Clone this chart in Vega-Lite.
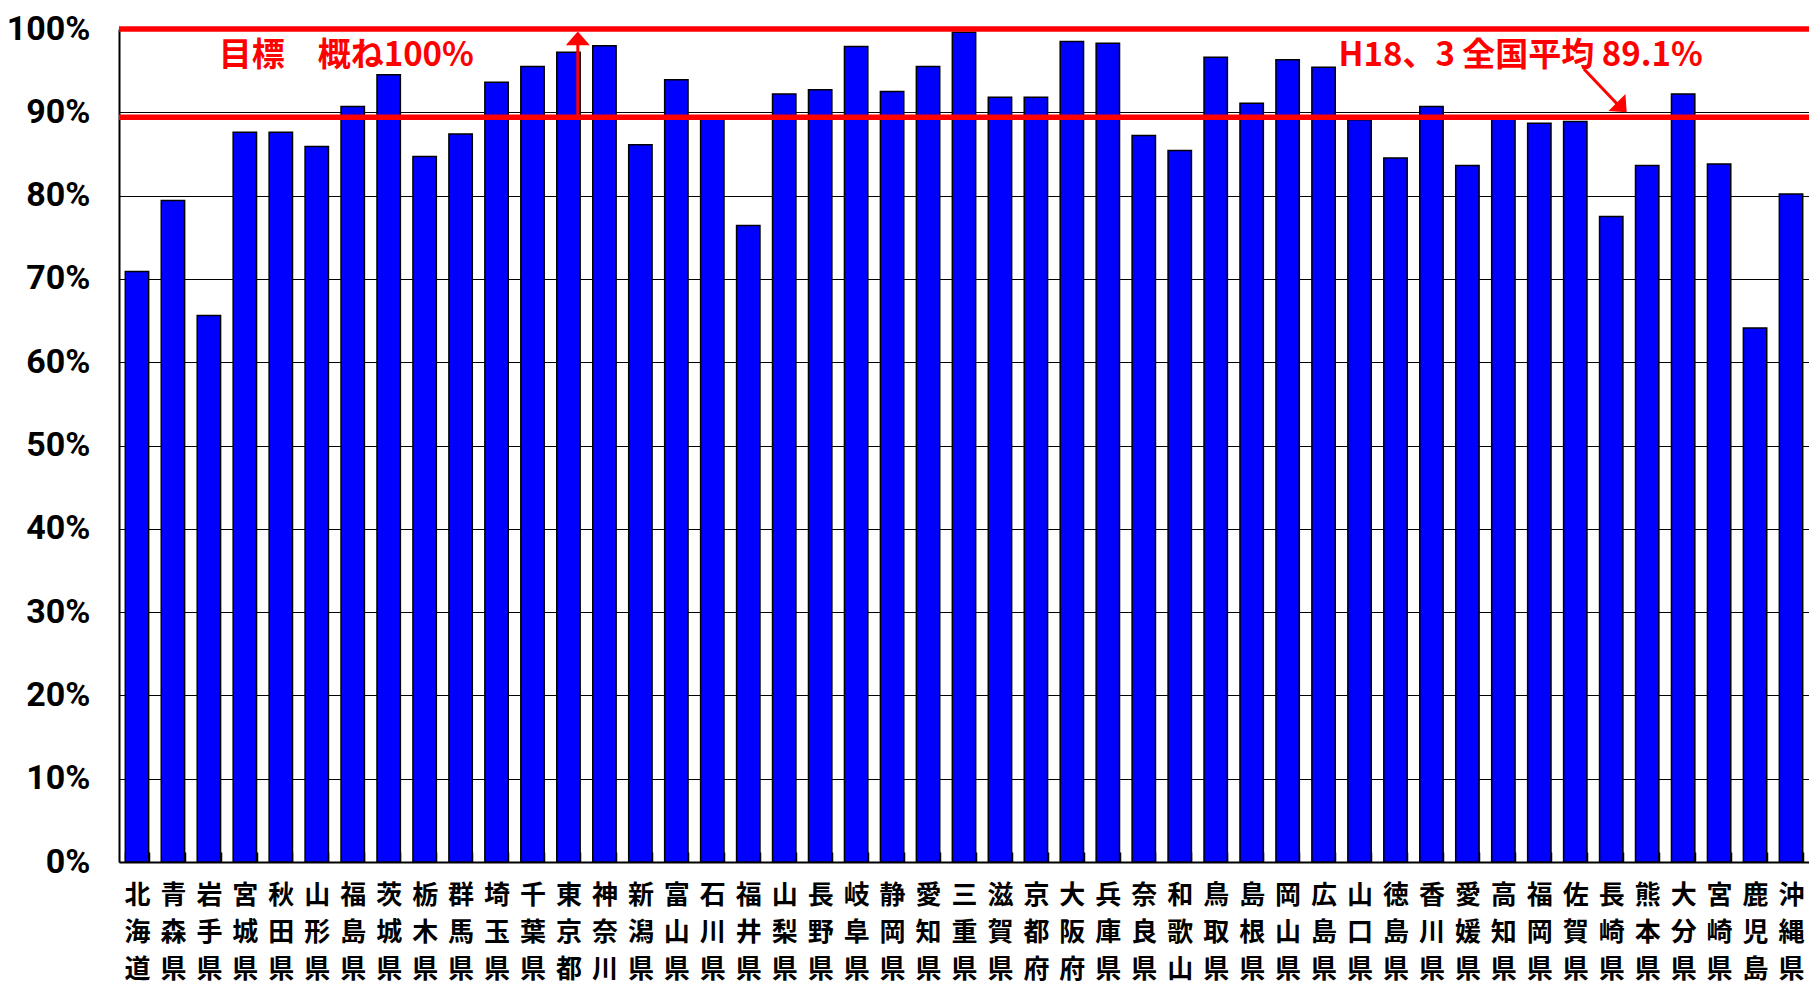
{
  "$schema": "https://vega.github.io/schema/vega-lite/v6.json",
  "width": 1690,
  "height": 833,
  "autosize": {"type": "none"},
  "padding": {"left": 119, "top": 29, "right": 0, "bottom": 122},
  "background": "white",
  "config": {"view": {"stroke": null}},
  "datasets": {
    "rates": [
      {"pref": "北海道", "rate": 70.9}, {"pref": "青森県", "rate": 79.4}, {"pref": "岩手県", "rate": 65.6},
      {"pref": "宮城県", "rate": 87.6}, {"pref": "秋田県", "rate": 87.6}, {"pref": "山形県", "rate": 85.9},
      {"pref": "福島県", "rate": 90.7}, {"pref": "茨城県", "rate": 94.5}, {"pref": "栃木県", "rate": 84.7},
      {"pref": "群馬県", "rate": 87.4}, {"pref": "埼玉県", "rate": 93.6}, {"pref": "千葉県", "rate": 95.5},
      {"pref": "東京都", "rate": 97.2}, {"pref": "神奈川", "rate": 98.0}, {"pref": "新潟県", "rate": 86.1},
      {"pref": "富山県", "rate": 93.9}, {"pref": "石川県", "rate": 89.3}, {"pref": "福井県", "rate": 76.4},
      {"pref": "山梨県", "rate": 92.2}, {"pref": "長野県", "rate": 92.7}, {"pref": "岐阜県", "rate": 97.9},
      {"pref": "静岡県", "rate": 92.5}, {"pref": "愛知県", "rate": 95.5}, {"pref": "三重県", "rate": 99.6},
      {"pref": "滋賀県", "rate": 91.8}, {"pref": "京都府", "rate": 91.8}, {"pref": "大阪府", "rate": 98.5},
      {"pref": "兵庫県", "rate": 98.3}, {"pref": "奈良県", "rate": 87.2}, {"pref": "和歌山", "rate": 85.4},
      {"pref": "鳥取県", "rate": 96.6}, {"pref": "島根県", "rate": 91.1}, {"pref": "岡山県", "rate": 96.3},
      {"pref": "広島県", "rate": 95.4}, {"pref": "山口県", "rate": 89.1}, {"pref": "徳島県", "rate": 84.5},
      {"pref": "香川県", "rate": 90.7}, {"pref": "愛媛県", "rate": 83.6}, {"pref": "高知県", "rate": 89.6},
      {"pref": "福岡県", "rate": 88.7}, {"pref": "佐賀県", "rate": 88.9}, {"pref": "長崎県", "rate": 77.5},
      {"pref": "熊本県", "rate": 83.6}, {"pref": "大分県", "rate": 92.2}, {"pref": "宮崎県", "rate": 83.8},
      {"pref": "鹿児島", "rate": 64.1}, {"pref": "沖縄県", "rate": 80.2}
    ],
    "reflines": [{"v": 100}, {"v": 89.4}],
    "labels": [
      {"pos": 6.32, "y": 96.8, "text": "目標　概ね100%"},
      {"pos": 38.98, "y": 96.8, "text": "H18、3 全国平均 89.1%"}
    ],
    "vshaft": [{"pos": 12.76, "y1": 89.4, "y2": 98.8}],
    "dshaft": [{"p1": 40.74, "p2": 41.75, "y1": 95.2, "y2": 90.6}],
    "heads": [
      {"pos": 12.76, "y": 99.7, "ang": 0},
      {"pos": 41.93, "y": 90.0, "ang": 135}
    ]
  },
  "resolve": {"scale": {"x": "independent"}},
  "layer": [
    {
      "data": {"name": "rates"},
      "mark": {"type": "bar", "color": "#0000FF", "stroke": "#000000", "strokeWidth": 1.5},
      "encoding": {
        "x": {
          "field": "pref", "type": "nominal", "sort": null,
          "scale": {"paddingInner": 0.35, "paddingOuter": 0.175},
          "axis": {
            "title": null, "labelAngle": 0, "labelOverlap": false,
            "labelExpr": "split(datum.label, '')",
            "labelFont": "Noto Sans CJK JP", "labelFontWeight": "bold",
            "labelFontSize": 26, "labelLineHeight": 37, "labelColor": "#000",
            "labelBaseline": "top", "labelPadding": 30,
            "domainColor": "#000", "domainWidth": 2,
            "ticks": true, "tickBand": "extent", "tickSize": -10,
            "tickColor": "#000", "tickWidth": 1.5, "grid": false
          }
        },
        "y": {
          "field": "rate", "type": "quantitative",
          "scale": {"domain": [0, 100], "nice": false},
          "axis": {
            "title": null, "values": [0, 10, 20, 30, 40, 50, 60, 70, 80, 90, 100],
            "labelExpr": "datum.value + '%'",
            "labelFont": "Roboto",
            "labelFontWeight": "bold", "labelFontSize": 34, "labelColor": "#000",
            "labelPadding": 29, "ticks": false,
            "domainColor": "#000", "domainWidth": 2,
            "grid": true, "gridColor": "#000", "gridWidth": 1, "gridOpacity": 1
          }
        }
      }
    },
    {
      "data": {"name": "reflines"},
      "mark": {"type": "rule", "color": "#FF0000", "strokeWidth": 5.5},
      "encoding": {
        "y": {"field": "v", "type": "quantitative", "scale": {"domain": [0, 100], "nice": false}, "title": null}
      }
    },
    {
      "data": {"name": "vshaft"},
      "mark": {"type": "rule", "color": "#FF0000", "strokeWidth": 3},
      "encoding": {
        "x": {"field": "pos", "type": "quantitative", "scale": {"domain": [0, 47], "nice": false, "zero": false}, "axis": null},
        "y": {"field": "y1", "type": "quantitative", "scale": {"domain": [0, 100], "nice": false}, "title": null},
        "y2": {"field": "y2"}
      }
    },
    {
      "data": {"name": "dshaft"},
      "mark": {"type": "rule", "color": "#FF0000", "strokeWidth": 3},
      "encoding": {
        "x": {"field": "p1", "type": "quantitative", "scale": {"domain": [0, 47], "nice": false, "zero": false}, "axis": null},
        "x2": {"field": "p2"},
        "y": {"field": "y1", "type": "quantitative", "scale": {"domain": [0, 100], "nice": false}, "title": null},
        "y2": {"field": "y2"}
      }
    },
    {
      "data": {"name": "heads"},
      "mark": {"type": "point", "shape": "M0,0L1,1.15L-1,1.15Z", "filled": true, "color": "#FF0000", "opacity": 1, "size": 576, "strokeWidth": 0},
      "encoding": {
        "x": {"field": "pos", "type": "quantitative", "scale": {"domain": [0, 47], "nice": false, "zero": false}, "axis": null},
        "y": {"field": "y", "type": "quantitative", "scale": {"domain": [0, 100], "nice": false}, "title": null},
        "angle": {"field": "ang", "type": "quantitative", "scale": null}
      }
    },
    {
      "data": {"name": "labels"},
      "mark": {"type": "text", "color": "#FF0000", "font": "Noto Sans CJK JP", "fontWeight": "bold", "fontSize": 33, "align": "center", "baseline": "middle"},
      "encoding": {
        "x": {"field": "pos", "type": "quantitative", "scale": {"domain": [0, 47], "nice": false, "zero": false}, "axis": null},
        "y": {"field": "y", "type": "quantitative", "scale": {"domain": [0, 100], "nice": false}, "title": null},
        "text": {"field": "text"}
      }
    }
  ]
}
